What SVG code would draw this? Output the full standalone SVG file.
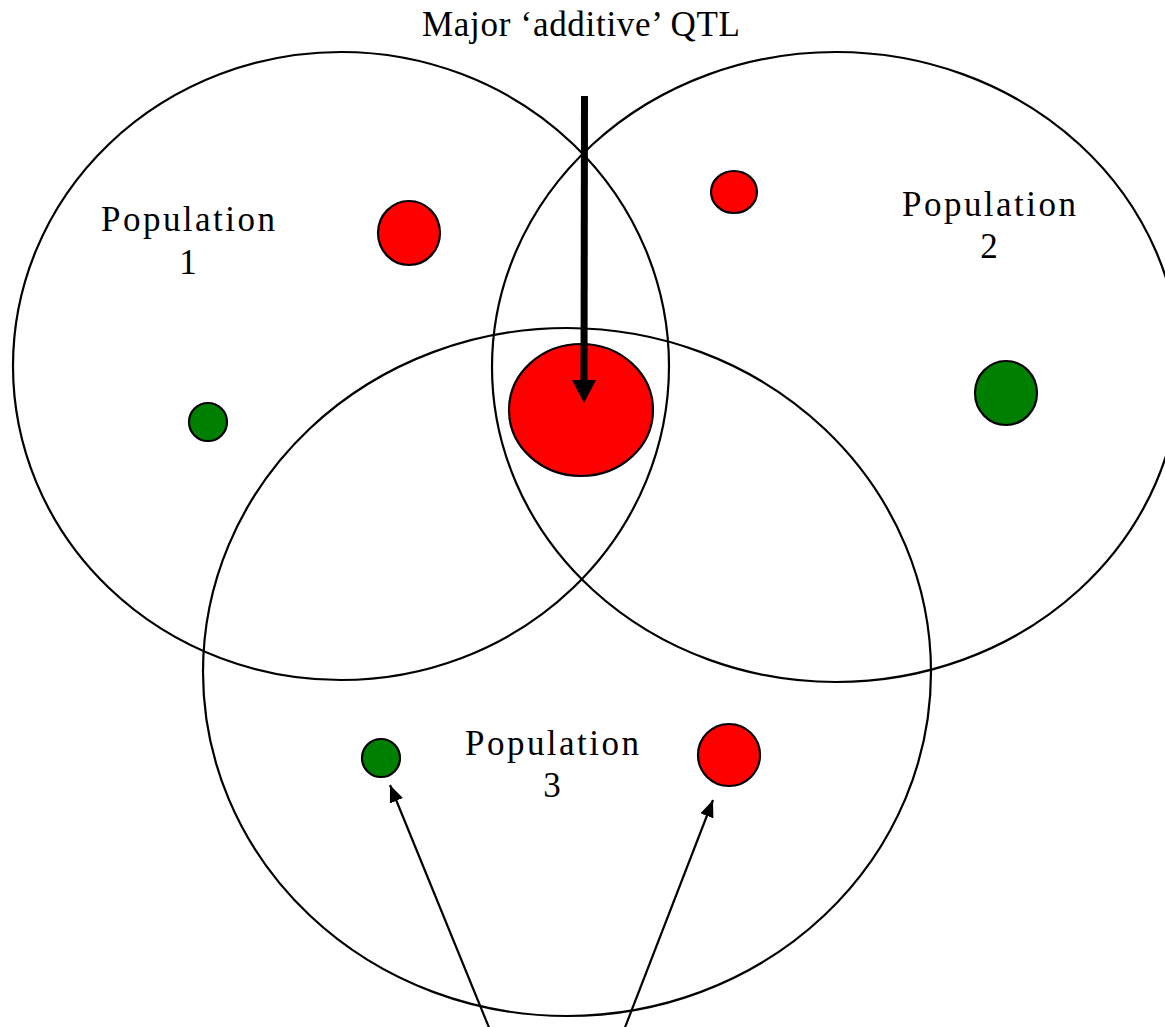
<svg xmlns="http://www.w3.org/2000/svg" width="1165" height="1027" viewBox="0 0 1165 1027">
<style>
.pop{fill:none;stroke:#000;stroke-width:2.2}
.red{fill:#ff0000;stroke:#000;stroke-width:2.2}
.grn{fill:#008000;stroke:#000;stroke-width:2.2}
text{font-family:"Liberation Serif","DejaVu Serif",serif;font-size:35px;fill:#000;text-anchor:middle}
.thin{stroke:#000;stroke-width:2.2;fill:none}
</style>
<defs>
<marker id="ahs" markerWidth="17" markerHeight="14" refX="17" refY="7" orient="auto" markerUnits="userSpaceOnUse" viewBox="0 0 17 14">
<path d="M0,0 L17,7 L0,14 z" fill="#000"/>
</marker>
</defs>
<rect width="1165" height="1027" fill="#fff"/>
<g id="population1">
<ellipse class="pop" cx="341" cy="366" rx="328" ry="314"/>
<text x="188" y="231" textLength="174">Population</text>
<text x="188" y="274">1</text>
</g>
<g id="population2">
<ellipse class="pop" cx="836" cy="367" rx="344" ry="315"/>
<text x="989" y="216" textLength="174">Population</text>
<text x="989" y="258">2</text>
</g>
<g id="population3">
<ellipse class="pop" cx="567" cy="672" rx="364" ry="344"/>
<text x="552" y="755" textLength="174">Population</text>
<text x="552" y="797">3</text>
</g>
<g id="qtl-p1-red"><ellipse class="red" cx="409" cy="233" rx="31" ry="32"/></g>
<g id="qtl-p1-green"><circle class="grn" cx="208" cy="422" r="19"/></g>
<g id="qtl-p2-red"><ellipse class="red" cx="734" cy="192" rx="23" ry="21"/></g>
<g id="qtl-p2-green"><ellipse class="grn" cx="1006" cy="393" rx="31" ry="32"/></g>
<g id="qtl-major"><ellipse class="red" cx="581" cy="410" rx="72" ry="66"/></g>
<g id="qtl-p3-green"><circle class="grn" cx="381" cy="758" r="19"/></g>
<g id="qtl-p3-red"><circle class="red" cx="729" cy="755" r="31"/></g>
<g id="title"><text x="581" y="36" textLength="318">Major ‘additive’ QTL</text></g>
<g id="connectors">
<line x1="584.5" y1="96" x2="584" y2="382" stroke="#000" stroke-width="7"/>
<polygon points="572,380 596,380 584,403" fill="#000"/>
<line class="thin" x1="490" y1="1030" x2="390" y2="785" marker-end="url(#ahs)"/>
<line class="thin" x1="624" y1="1030" x2="713" y2="800" marker-end="url(#ahs)"/>
</g>
</svg>
